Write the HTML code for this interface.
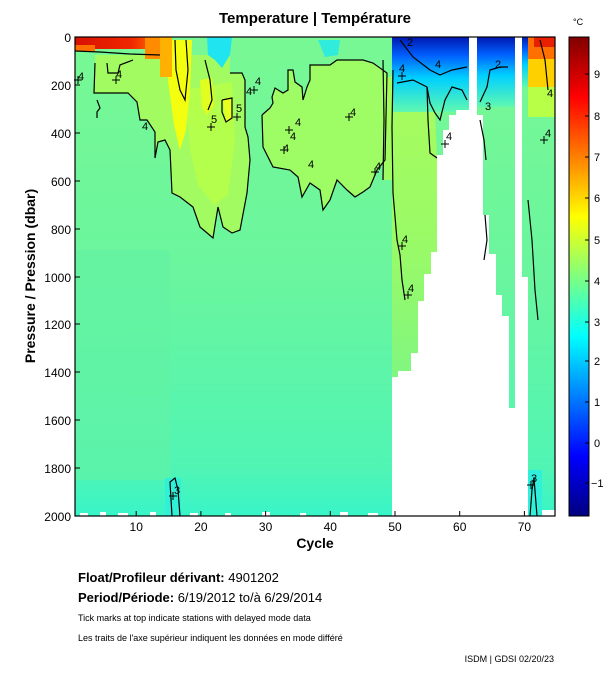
<!DOCTYPE html>
<html><head><meta charset="utf-8"><style>
body{margin:0;background:#fff;width:611px;height:675px;overflow:hidden;font-family:"Liberation Sans",Arial,sans-serif}
svg{position:absolute;left:0;top:0}
</style></head><body>
<svg width="611" height="675" viewBox="0 0 611 675" xmlns="http://www.w3.org/2000/svg" font-family="Liberation Sans, Arial, sans-serif">
<defs>
<linearGradient id="cb" x1="0" y1="0" x2="0" y2="1">
<stop offset="0" stop-color="#800000"/><stop offset="0.125" stop-color="#ff0000"/>
<stop offset="0.375" stop-color="#ffff00"/><stop offset="0.625" stop-color="#00ffff"/>
<stop offset="0.875" stop-color="#0000ff"/><stop offset="1" stop-color="#000080"/>
</linearGradient>
<linearGradient id="blue" x1="0" y1="0" x2="0" y2="1">
<stop offset="0" stop-color="#0018b0"/><stop offset="0.25" stop-color="#0060ff"/>
<stop offset="0.55" stop-color="#00d0ff"/><stop offset="1" stop-color="#60f8b0"/>
</linearGradient>
<linearGradient id="base" x1="0" y1="0" x2="0" y2="1">
<stop offset="0" stop-color="#78f894"/><stop offset="0.5" stop-color="#6af59e"/>
<stop offset="0.9" stop-color="#50f5b4"/><stop offset="1" stop-color="#38f5c8"/>
</linearGradient>
<linearGradient id="warm" x1="0" y1="0" x2="1" y2="0">
<stop offset="0" stop-color="#d81000"/><stop offset="0.6" stop-color="#f02800"/><stop offset="1" stop-color="#ff9800"/>
</linearGradient>
<linearGradient id="rg" x1="0" y1="0" x2="0" y2="1">
<stop offset="0" stop-color="#a8fc5c"/><stop offset="0.6" stop-color="#98fa68"/><stop offset="1" stop-color="#80f680"/>
</linearGradient>
</defs>
<rect x="75" y="37" width="480" height="479" fill="url(#base)"/>
<rect x="75" y="250" width="95" height="230" fill="#62f2a4" opacity="0.6"/>
<polygon fill="#a2fb60" points="95,55 95,63 94,93 108,93 128,93 137,102 140,120 147,120 155,132 155,158 158,142 165,140 170,150 172,193 180,197 193,207 200,227 213,238 218,207 223,227 232,233 240,230 247,193 250,160 248,137 245,127 245,93 245,80 242,73 230,73 230,55"/>
<polygon fill="#b4fe4c" points="185,90 232,82 235,140 228,195 214,205 198,185 190,150"/>
<polygon fill="#9efc64" points="262,115 263,147 273,167 290,170 298,177 302,197 310,183 320,190 323,210 330,200 337,180 347,190 355,197 363,192 370,187 377,170 385,160 387,73 373,63 363,60 337,60 330,65 310,65 310,80 307,87 303,100 302,87 295,82 293,70 288,70 288,90 283,93 275,88 272,97 273,103 270,108"/>
<polygon fill="url(#rg)" points="383,80 393,75 397,83 413,80 427,87 430,103 435,113 437,160 437,252 431,252 431,274 424,274 424,301 418,301 418,353 411,353 411,371 398,371 398,377 392,377 392,180 383,180"/>
<polygon fill="#8cf878" points="489,254 496,254 496,295 502,295 502,316 509,316 509,400 490,400 485,330"/>
<polygon fill="#f4ff10" points="165,40 192,40 190,90 186,130 180,150 174,125 168,80"/>
<polygon fill="#e0ff20" points="200,80 212,78 214,105 207,115 202,108"/>
<polygon fill="#e8ff20" points="223,100 232,98 232,120 226,122"/>
<rect x="75" y="37" width="95" height="12" fill="url(#warm)"/>
<rect x="75" y="45" width="20" height="6" fill="#ff7000"/>
<rect x="145" y="37" width="25" height="22" fill="#ff8c00"/>
<rect x="160" y="37" width="12" height="40" fill="#ffb000"/>
<polygon fill="#20e4f0" points="207,37 232,37 230,55 222,68 215,60 208,55"/>
<polygon fill="#30ecdc" points="318,40 340,40 338,55 325,57"/>
<rect x="392" y="37" width="77" height="75" fill="url(#blue)"/>
<rect x="477" y="37" width="38" height="70" fill="url(#blue)"/>
<rect x="522" y="37" width="6" height="50" fill="url(#blue)"/>
<rect x="528" y="37" width="27" height="50" fill="#ffd000"/>
<rect x="528" y="37" width="27" height="22" fill="#ff7000"/>
<rect x="534" y="37" width="21" height="10" fill="#e82000"/>
<rect x="528" y="87" width="27" height="30" fill="#b8ff48"/>
<rect x="165" y="478" width="16" height="38" fill="#30f0d8"/>
<rect x="528" y="470" width="14" height="46" fill="#30f0dc"/>
<polygon fill="#fff" points="392,517 392,377 398,377 398,371 411,371 411,353 418,353 418,301 424,301 424,274 431,274 431,252 437,252 437,155 443,155 443,130 449,130 449,115 456,115 456,110 469,110 469,37 477,37 477,115 483,115 483,215 489,215 489,254 496,254 496,295 502,295 502,316 509,316 509,408 515,408 515,37 522,37 522,277 528,277 528,517"/>
<rect x="542" y="510" width="13" height="6" fill="#fff"/>
<g fill="#fff">
<rect x="80" y="513" width="8" height="3"/><rect x="100" y="512" width="6" height="4"/><rect x="118" y="513" width="10" height="3"/><rect x="150" y="512" width="6" height="4"/><rect x="190" y="513" width="8" height="3"/><rect x="225" y="513" width="6" height="3"/><rect x="262" y="512" width="8" height="4"/><rect x="300" y="513" width="6" height="3"/><rect x="340" y="512" width="8" height="4"/><rect x="368" y="513" width="10" height="3"/>
</g>
<g fill="none" stroke="#000" stroke-width="1.2">
<polyline points="75,51 100,52 130,54 160,55"/>
<polyline points="107,63 108,73 118,73 120,65 133,60"/>
<polyline points="95,63 94,93 108,93 128,93 137,102 140,120 147,120 155,132 155,158 158,142 165,140 170,150 172,193 180,197 193,207 200,227 213,238 218,207 223,227 232,233 240,230 247,193 250,160 248,137 245,127 245,93 245,80 242,73 230,73"/>
<polyline points="97,100 100,108 97,112 97,118"/>
<polyline points="262,115 263,147 273,167 290,170 298,177 302,197 310,183 320,190 323,210 330,200 337,180 347,190 355,197 363,192 370,187 377,170 385,160 387,73 373,63 363,60 337,60 330,65 310,65 310,80 307,87 303,100 302,87 295,82 293,70 288,70 288,90 283,93 275,88 272,97 273,103 270,108 262,115"/>
<polyline points="175,40 176,70 180,90 185,100 188,70 186,40"/>
<polyline points="205,60 210,80 212,100 208,110"/>
<polyline points="222,100 232,98 232,118 226,122 222,112 222,100"/>
<polyline points="383,60 384,120 383,180"/>
<polyline points="393,70 392,127 393,193 397,240 400,255 402,280 405,300"/>
<polyline points="397,83 413,80 427,87 430,103 435,113 440,120 445,100 452,87 462,90 467,100"/>
<polyline points="400,40 413,57 430,70 440,75 452,70 467,67"/>
<polyline points="427,87 428,120 430,153 437,158"/>
<polyline points="480,102 487,87 490,70 500,67 508,67"/>
<polyline points="485,215 487,240 484,260"/>
<polyline points="480,120 484,140 486,160"/>
<polyline points="528,200 532,240 535,290 538,320"/>
<polyline points="540,40 545,60 548,90"/>
<polyline points="172,516 170,482 175,478 178,490 180,516"/>
<polyline points="530,516 532,490 534,478 537,516"/>
</g>
<g font-size="11" fill="#000">
<text x="78" y="80">4</text><text x="116" y="78">4</text><text x="142" y="130">4</text><text x="211" y="123">5</text><text x="236" y="112">5</text>
<text x="255" y="85">4</text><text x="246" y="95">4</text><text x="295" y="126">4</text><text x="290" y="140">4</text><text x="283" y="152">4</text>
<text x="308" y="168">4</text><text x="350" y="116">4</text><text x="375" y="170">4</text><text x="399" y="72">4</text><text x="435" y="68">4</text>
<text x="446" y="140">4</text><text x="402" y="243">4</text><text x="408" y="292">4</text><text x="495" y="68">2</text><text x="485" y="110">3</text>
<text x="545" y="137">4</text><text x="547" y="97">4</text><text x="174" y="494">3</text><text x="531" y="482">3</text><text x="407" y="46">2</text>
</g>
<g stroke="#000" stroke-width="1">
<path d="M74,80h8M78,76v8M112,80h8M116,76v8M207,127h8M211,123v8M233,117h8M237,113v8M250,90h8M254,86v8M285,130h8M289,126v8M280,150h8M284,146v8M345,117h8M349,113v8M371,172h8M375,168v8M398,76h8M402,72v8M441,144h8M445,140v8M398,246h8M402,242v8M404,295h8M408,291v8M540,140h8M544,136v8M169,496h8M173,492v8M527,485h8M531,481v8"/>
</g>
<rect x="75" y="37" width="480" height="479" fill="none" stroke="#000" stroke-width="1.2"/>
<g stroke="#000" stroke-width="1">
<path d="M136.2,516v-5M200.9,516v-5M265.6,516v-5M330.3,516v-5M395,516v-5M459.7,516v-5M524.4,516v-5"/>
<path d="M75,85h5M75,133h5M75,181h5M75,229h5M75,277h5M75,324h5M75,372h5M75,420h5M75,468h5"/>
</g>
<g font-size="12" fill="#000" text-anchor="middle">
<text x="136.2" y="531">10</text><text x="200.9" y="531">20</text><text x="265.6" y="531">30</text><text x="330.3" y="531">40</text><text x="395" y="531">50</text><text x="459.7" y="531">60</text><text x="524.4" y="531">70</text>
</g>
<g font-size="12" fill="#000" text-anchor="end">
<text x="71" y="42">0</text><text x="71" y="90">200</text><text x="71" y="138">400</text><text x="71" y="186">600</text><text x="71" y="234">800</text><text x="71" y="282">1000</text><text x="71" y="329">1200</text><text x="71" y="377">1400</text><text x="71" y="425">1600</text><text x="71" y="473">1800</text><text x="71" y="521">2000</text>
</g>
<text x="315" y="548" font-size="14" font-weight="bold" text-anchor="middle">Cycle</text>
<text x="35" y="276" font-size="14" font-weight="bold" text-anchor="middle" transform="rotate(-90 35 276)">Pressure / Pression (dbar)</text>
<text x="315" y="23" font-size="15" font-weight="bold" text-anchor="middle">Temperature | Température</text>
<rect x="569" y="37" width="20" height="479" fill="url(#cb)" stroke="#000" stroke-width="1"/>
<g stroke="#000"><path d="M589,74h-4M589,116h-4M589,157h-4M589,198h-4M589,240h-4M589,281h-4M589,322h-4M589,361h-4M589,402h-4M589,443h-4M589,483h-4"/></g>
<g font-size="11" fill="#000">
<text x="594" y="78">9</text><text x="594" y="120">8</text><text x="594" y="161">7</text><text x="594" y="202">6</text><text x="594" y="244">5</text><text x="594" y="285">4</text><text x="594" y="326">3</text><text x="594" y="365">2</text><text x="594" y="406">1</text><text x="594" y="447">0</text><text x="591" y="487">−1</text>
<text x="573" y="25" font-size="9">°C</text>
</g>
<text x="78" y="582" font-size="13"><tspan font-weight="bold">Float/Profileur dérivant:</tspan> 4901202</text>
<text x="78" y="602" font-size="13"><tspan font-weight="bold">Period/Période:</tspan> 6/19/2012  to/à  6/29/2014</text>
<text x="78" y="621" font-size="9">Tick marks at top indicate stations with delayed mode data</text>
<text x="78" y="641" font-size="9">Les traits de l'axe supérieur indiquent les données en mode différé</text>
<text x="554" y="662" font-size="9" text-anchor="end">ISDM | GDSI  02/20/23</text>
</svg>
</body></html>
